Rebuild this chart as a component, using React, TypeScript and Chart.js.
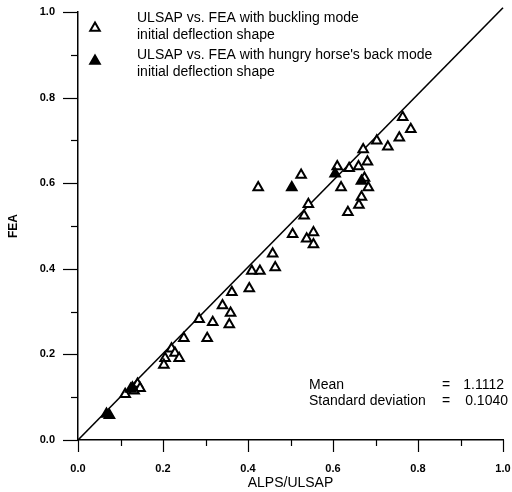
import React, { useEffect, useRef } from "react";
import { Chart, registerables } from "chart.js";

Chart.register(...registerables);

// ULSAP vs. FEA with buckling mode initial deflection shape (open triangles)
const buckX = [0.764, 0.783, 0.756, 0.703, 0.729, 0.671, 0.681, 0.610, 0.638, 0.660, 0.683, 0.667, 0.661, 0.635, 0.619, 0.525, 0.542, 0.532, 0.505, 0.554, 0.538, 0.554, 0.424, 0.458, 0.464, 0.409, 0.428, 0.403, 0.362, 0.340, 0.359, 0.356, 0.285, 0.317, 0.304, 0.249, 0.220, 0.228, 0.205, 0.238, 0.202, 0.140, 0.146, 0.132, 0.111, 0.674];
const buckY = [0.754, 0.726, 0.706, 0.699, 0.685, 0.679, 0.650, 0.639, 0.635, 0.639, 0.590, 0.568, 0.549, 0.532, 0.590, 0.619, 0.551, 0.524, 0.481, 0.485, 0.470, 0.457, 0.590, 0.435, 0.403, 0.395, 0.395, 0.354, 0.345, 0.314, 0.297, 0.270, 0.282, 0.275, 0.238, 0.238, 0.213, 0.203, 0.191, 0.191, 0.175, 0.131, 0.121, 0.115, 0.107, 0.612];

// ULSAP vs. FEA with hungry horse's back mode initial deflection shape (filled triangles)
const horseX = [0.605, 0.503, 0.667, 0.124, 0.128, 0.067, 0.074];
const horseY = [0.622, 0.590, 0.605, 0.119, 0.122, 0.061, 0.058];

// Reference line y = x
const lineX = [0, 1.0];
const lineY = [0, 1.01];

const legendLabels = [
  ["ULSAP vs. FEA with buckling mode", "initial deflection shape"],
  ["ULSAP vs. FEA with hungry horse's back mode", "initial deflection shape"],
];
const statLabels = ["Mean", "Standard deviation"];
const statValues = ["1.1112", "0.1040"];

const FONT = "'Liberation Sans', Arial, sans-serif";

const tickPlugin = {
  id: "customTicks",
  afterDraw(chart: any) {
    const ctx = chart.ctx;
    const xs = chart.scales.x;
    const ys = chart.scales.y;
    ctx.save();
    ctx.strokeStyle = "#000";
    ctx.lineWidth = 1.2;
    xs.ticks.forEach((t: any, i: number) => {
      const px = Math.round(xs.getPixelForValue(t.value)) + 0.5;
      const len = i % 2 === 0 ? 12 : 6;
      ctx.beginPath();
      ctx.moveTo(px, xs.top);
      ctx.lineTo(px, xs.top + len);
      ctx.stroke();
    });
    ys.ticks.forEach((t: any, i: number) => {
      const py = Math.round(ys.getPixelForValue(t.value)) + 0.5;
      const len = i % 2 === 0 ? 15 : 7;
      ctx.beginPath();
      ctx.moveTo(ys.right, py);
      ctx.lineTo(ys.right - len, py);
      ctx.stroke();
    });

    // legend
    const drawTri = (cx: number, cy: number, filled: boolean) => {
      const r = 5.5;
      ctx.beginPath();
      for (let k = 0; k < 3; k++) {
        const a = -Math.PI / 2 + (k * 2 * Math.PI) / 3;
        const x = cx + Math.cos(a) * r;
        const y = cy + Math.sin(a) * r;
        if (k === 0) ctx.moveTo(x, y);
        else ctx.lineTo(x, y);
      }
      ctx.closePath();
      ctx.fillStyle = filled ? "#000" : "#fff";
      ctx.fill();
      ctx.lineWidth = 2;
      ctx.stroke();
    };
    drawTri(95, 28, false);
    drawTri(95, 61, true);
    ctx.fillStyle = "#000";
    ctx.font = `14px ${FONT}`;
    ctx.textBaseline = "middle";
    ctx.textAlign = "left";
    const lineYs = [[18, 35], [55, 72]];
    legendLabels.forEach((lines, i) => {
      lines.forEach((s, j) => ctx.fillText(s, 137, lineYs[i][j]));
    });

    // statistics
    const sy = [385, 401];
    statLabels.forEach((s, i) => {
      ctx.textAlign = "left";
      ctx.fillText(s, 309, sy[i]);
      ctx.fillText("=", 442, sy[i]);
      ctx.textAlign = "right";
      ctx.fillText(statValues[i], i === 0 ? 504 : 508, sy[i]);
    });
    ctx.restore();
  },
};

export default function App() {
  const ref = useRef<HTMLCanvasElement>(null);
  useEffect(() => {
    if (!ref.current) return;
    const chart = new Chart(ref.current, {
      type: "scatter",
      data: {
        datasets: [
          {
            label: "y = x",
            data: lineX.map((x, i) => ({ x, y: lineY[i] })),
            showLine: true,
            borderColor: "#000",
            borderWidth: 1.6,
            pointRadius: 0,
            clip: false as any,
            order: 3,
          },
          {
            label: legendLabels[0].join(" "),
            data: buckX.map((x, i) => ({ x, y: buckY[i] })),
            pointStyle: "triangle",
            pointRadius: 5.5,
            borderWidth: 2,
            borderColor: "#000",
            backgroundColor: "#fff",
            order: 2,
          },
          {
            label: legendLabels[1].join(" "),
            data: horseX.map((x, i) => ({ x, y: horseY[i] })),
            pointStyle: "triangle",
            pointRadius: 5.5,
            borderWidth: 2,
            borderColor: "#000",
            backgroundColor: "#000",
            order: 1,
          },
        ],
      },
      options: {
        responsive: false,
        animation: false,
        layout: { padding: { left: 0, top: 12, right: 9, bottom: 0 } },
        plugins: { legend: { display: false }, tooltip: { enabled: false } },
        scales: {
          x: {
            type: "linear",
            min: 0,
            max: 1,
            afterFit: (s: any) => {
              s.height = 52;
              s.paddingLeft = 0;
              s.paddingRight = 0;
            },
            ticks: {
              stepSize: 0.1,
              autoSkip: false,
              maxRotation: 0,
              padding: 22,
              color: "#000",
              font: { family: FONT, size: 11, weight: "bold" },
              callback: (v: any, i: number) => (i % 2 === 0 ? Number(v).toFixed(1) : ""),
            },
            grid: { display: true, drawOnChartArea: false, drawTicks: false },
            border: { display: true, color: "#000", width: 1.5 },
            title: {
              display: true,
              text: "ALPS/ULSAP",
              color: "#000",
              font: { family: FONT, size: 14 },
              padding: { top: 0, bottom: 0 },
            },
          },
          y: {
            type: "linear",
            min: 0,
            max: 1,
            afterFit: (s: any) => {
              s.width = 78;
              s.paddingTop = 0;
              s.paddingBottom = 0;
            },
            ticks: {
              stepSize: 0.1,
              autoSkip: false,
              padding: 23,
              color: "#000",
              font: { family: FONT, size: 11, weight: "bold" },
              callback: (v: any, i: number) => (i % 2 === 0 ? Number(v).toFixed(1) : ""),
            },
            grid: { display: true, drawOnChartArea: false, drawTicks: false },
            border: { display: true, color: "#000", width: 1.5 },
            title: {
              display: true,
              text: "FEA",
              color: "#000",
              font: { family: FONT, size: 12, weight: "bold" },
              padding: { top: 6, bottom: 0 },
            },
          },
        },
      },
      plugins: [tickPlugin],
    });
    return () => chart.destroy();
  }, []);
  return (
    <canvas
      ref={ref}
      width={512}
      height={492}
      style={{ position: "absolute", left: 0, top: 0, background: "#fff" }}
    />
  );
}
